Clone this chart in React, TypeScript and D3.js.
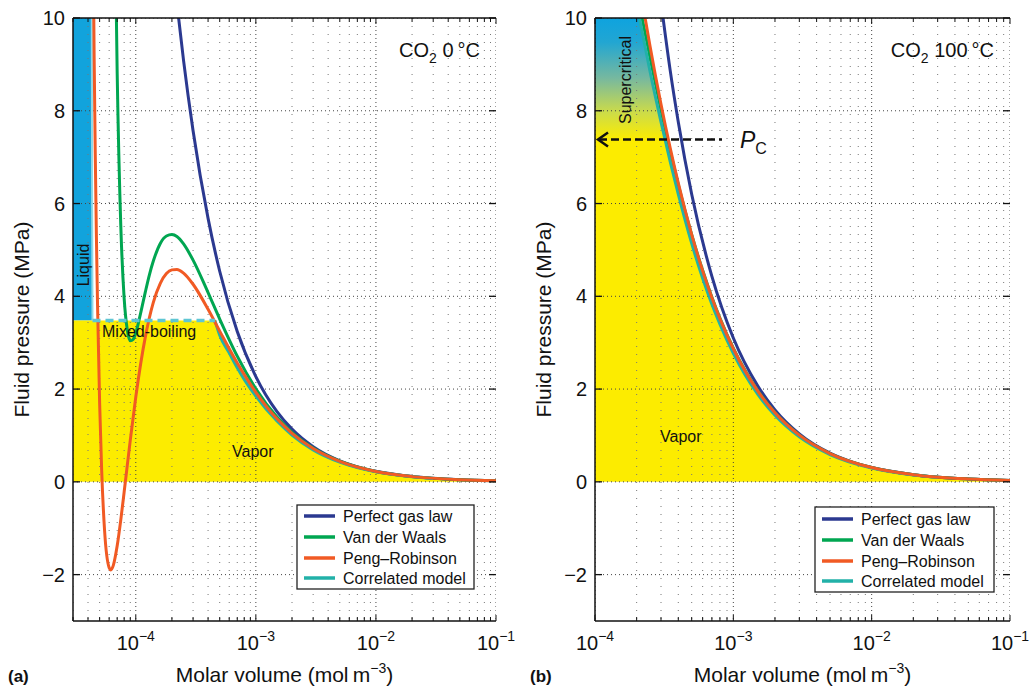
import React from 'react';
import * as d3 from 'd3';

// ---------- DATA ----------
// Panel (a): CO2 at 0 °C   — molar volume V (m^3/mol), pressure P (MPa)
const A_GAS_V = [2.2e-4, 2.5e-4, 3e-4, 4e-4, 5e-4, 7e-4, 1e-3, 1.5e-3, 2e-3, 3e-3, 5e-3, 7e-3, 1e-2, 2e-2, 5e-2, 1e-1];
const A_GAS_P = [10.32, 9.08, 7.57, 5.68, 4.54, 3.24, 2.27, 1.514, 1.136, 0.757, 0.454, 0.324, 0.227, 0.114, 0.045, 0.0227];

const A_VDW_V = [6.5e-5, 6.7e-5, 7e-5, 7.5e-5, 8e-5, 8.5e-5, 9e-5, 9.5e-5, 1e-4, 1.1e-4, 1.2e-4, 1.3e-4, 1.4e-4, 1.6e-4, 1.8e-4, 2e-4, 2.2e-4, 2.5e-4, 3e-4, 4e-4, 5e-4, 7e-4, 1e-3, 1.5e-3, 2e-3, 3e-3, 5e-3, 1e-2, 2e-2, 5e-2, 1e-1];
const A_VDW_P = [15.55, 12.26, 8.81, 5.53, 3.96, 3.27, 3.04, 3.07, 3.21, 3.65, 4.09, 4.47, 4.76, 5.14, 5.30, 5.33, 5.29, 5.13, 4.78, 4.08, 3.51, 2.71, 2.008, 1.397, 1.069, 0.727, 0.444, 0.2244, 0.1127, 0.0453, 0.0227];

const A_PR_V = [4.3e-5, 4.5e-5, 4.6e-5, 4.7e-5, 4.8e-5, 5e-5, 5.2e-5, 5.5e-5, 6e-5, 6.2e-5, 6.5e-5, 7e-5, 7.5e-5, 8e-5, 8.5e-5, 9e-5, 1e-4, 1.2e-4, 1.4e-4, 1.6e-4, 1.8e-4, 2e-4, 2.2e-4, 2.5e-4, 3e-4, 4e-4, 5e-4, 7e-4, 1e-3, 1.5e-3, 2e-3, 3e-3, 5e-3, 1e-2, 2e-2, 5e-2, 1e-1];
const A_PR_P = [14.85, 9.14, 7.02, 5.28, 3.85, 1.69, 0.24, -1.06, -1.85, -1.90, -1.80, -1.38, -0.82, -0.22, 0.36, 0.90, 1.83, 3.12, 3.87, 4.28, 4.49, 4.57, 4.58, 4.50, 4.26, 3.72, 3.25, 2.56, 1.93, 1.358, 1.047, 0.717, 0.440, 0.2235, 0.1126, 0.0453, 0.0227];

const A_CORR_LIQ_V = [4.30e-5, 4.33e-5, 4.36e-5];
const A_CORR_LIQ_P = [10, 6, 3.48];
const A_SAT_P = 3.48;
const A_CORR_VAP_V = [4.56e-4, 5e-4, 6e-4, 7e-4, 8e-4, 1e-3, 1.5e-3, 2e-3, 3e-3, 5e-3, 1e-2, 2e-2, 3e-2];
const A_CORR_VAP_P = [3.48, 3.16, 2.78, 2.46, 2.21, 1.85, 1.31, 1.01, 0.69, 0.425, 0.216, 0.109, 0.073];
const A_TAIL_V = [5e-2, 1e-1];
const A_TAIL_P = [0.0453, 0.0227];

// Panel (b): CO2 at 100 °C
const B_GAS_V = [3e-4, 3.5e-4, 4e-4, 5e-4, 7e-4, 1e-3, 1.5e-3, 2e-3, 3e-3, 5e-3, 7e-3, 1e-2, 2e-2, 5e-2, 1e-1];
const B_GAS_P = [10.34, 8.86, 7.76, 6.20, 4.43, 3.10, 2.07, 1.55, 1.034, 0.620, 0.443, 0.310, 0.155, 0.062, 0.031];

const B_VDW_V = [2.1e-4, 2.2e-4, 2.5e-4, 3e-4, 3.5e-4, 4e-4, 5e-4, 6e-4, 7e-4, 8e-4, 1e-3, 1.5e-3, 2e-3, 3e-3, 5e-3, 1e-2, 2e-2, 5e-2, 1e-1];
const B_VDW_P = [10.29, 9.97, 9.14, 8.01, 7.12, 6.41, 5.33, 4.56, 3.98, 3.53, 2.88, 1.967, 1.494, 1.0086, 0.611, 0.308, 0.1545, 0.0619, 0.0310];

const B_PR_V = [2.2e-4, 2.3e-4, 2.5e-4, 3e-4, 3.5e-4, 4e-4, 5e-4, 6e-4, 7e-4, 8e-4, 1e-3, 1.5e-3, 2e-3, 3e-3, 5e-3, 1e-2, 2e-2, 5e-2, 1e-1];
const B_PR_P = [10.35, 10.01, 9.39, 8.14, 7.19, 6.44, 5.33, 4.55, 3.97, 3.52, 2.87, 1.960, 1.490, 1.0065, 0.610, 0.3077, 0.1545, 0.0619, 0.0310];

const B_CORR_V = [2.0e-4, 2.1e-4, 2.2e-4, 2.5e-4, 3e-4, 3.5e-4, 4e-4, 5e-4, 6e-4, 7e-4, 8e-4, 1e-3, 1.5e-3, 2e-3, 3e-3, 5e-3, 1e-2, 2e-2, 3e-2];
const B_CORR_P = [10.4, 10.0, 9.68, 8.85, 7.76, 6.90, 6.20, 5.14, 4.39, 3.83, 3.40, 2.77, 1.89, 1.435, 0.97, 0.588, 0.297, 0.149, 0.0995];
const B_TAIL_V = [5e-2, 1e-1];
const B_TAIL_P = [0.0619, 0.0310];
const B_PC = 7.38;

const P_TICKS = [-2, 0, 2, 4, 6, 8, 10];
const A_X_EXP = [-4, -3, -2, -1];
const B_X_EXP = [-4, -3, -2, -1];
const LEGEND_LABELS = ['Perfect gas law', 'Van der Waals', 'Peng\u2013Robinson', 'Correlated model'];

// ---------- STYLE ----------
const FONT = "'Liberation Sans', Arial, Helvetica, sans-serif";
const C_GAS = '#2b3990';
const C_VDW = '#00a651';
const C_PR = '#f15a24';
const C_CORR = '#22b1a8';
const C_DASH = '#5ec6d3';
const C_LIQ = '#12a3dc';
const C_YEL = '#fcec00';
const LEG_COLORS = [C_GAS, C_VDW, C_PR, C_CORR];

const Y_TOP = 18, Y_BOT = 621;

type Pt = [number, number];
const zip = (v: number[], p: number[]): Pt[] => v.map((x, i) => [x, p[i]]);

function Panel(props: {
  id: string; x0: number; x1: number; dom: [number, number]; exps: number[];
  gas: Pt[]; vdw: Pt[]; pr: Pt[]; title: string; legend: { x: number; y: number; w: number; h: number; rows: number[] };
  kind: 'a' | 'b';
}) {
  const { id, x0, x1, dom, exps, kind } = props;
  const xs = d3.scaleLog().domain(dom).range([x0, x1]);
  const ys = d3.scaleLinear().domain([-3, 10]).range([Y_BOT, Y_TOP]);
  const line = d3.line<Pt>().x(d => xs(d[0])).y(d => ys(d[1])).curve(d3.curveMonotoneX);

  // grid positions
  const minor: number[] = [];
  const major: number[] = [];
  const lo = Math.floor(Math.log10(dom[0])), hi = Math.ceil(Math.log10(dom[1]));
  for (let e = lo; e <= hi; e++) {
    for (let m = 1; m <= 9; m++) {
      const v = m * Math.pow(10, e);
      if (v < dom[0] * 0.999 || v > dom[1] * 1.001) continue;
      (m === 1 ? major : minor).push(v);
    }
  }

  let fills: React.ReactNode = null;
  let corr: React.ReactNode = null;
  const yZero = ys(0);
  if (kind === 'a') {
    const liq = zip(A_CORR_LIQ_V, A_CORR_LIQ_P);
    const liqPath = `M${x0},${ys(10)}L${xs(liq[0][0])},${ys(10)}` +
      liq.map(d => `L${xs(d[0])},${ys(d[1])}`).join('') + `L${x0},${ys(A_SAT_P)}Z`;
    const vap = zip(A_CORR_VAP_V, A_CORR_VAP_P).concat(zip(A_TAIL_V, A_TAIL_P));
    const vapLine = line(vap) as string;
    const yelPath = `M${x0},${yZero}L${x0},${ys(A_SAT_P)}` + vapLine.replace(/^M/, 'L') + `L${xs(dom[1])},${yZero}Z`;
    fills = (
      <g>
        <path d={liqPath} fill={C_LIQ} />
        <path d={yelPath} fill={C_YEL} />
      </g>
    );
    corr = (
      <g>
        <path d={line(liq) as string} fill="none" stroke="#8fd9e6" strokeWidth={2} />
        <path d={line(zip(A_CORR_VAP_V, A_CORR_VAP_P)) as string} fill="none" stroke={C_CORR} strokeWidth={3} />
      </g>
    );
  } else {
    const c = zip(B_CORR_V, B_CORR_P);
    const full = c.concat(zip(B_TAIL_V, B_TAIL_P));
    const l = line(full) as string;
    const p = `M${x0},${yZero}L${x0},${ys(c[0][1])}` + l.replace(/^M/, 'L') + `L${xs(dom[1])},${yZero}Z`;
    fills = (
      <g>
        <defs>
          <linearGradient id={`grad-${id}`} gradientUnits="userSpaceOnUse" x1={0} x2={0} y1={ys(10)} y2={ys(B_PC)}>
            <stop offset="0" stopColor="#0ea3df" />
            <stop offset="0.2" stopColor="#22a6d2" />
            <stop offset="0.5" stopColor="#78b99e" />
            <stop offset="0.78" stopColor="#cddc48" />
            <stop offset="1" stopColor={C_YEL} />
          </linearGradient>
        </defs>
        <path d={p} fill={`url(#grad-${id})`} />
      </g>
    );
    corr = <path d={line(c) as string} fill="none" stroke={C_CORR} strokeWidth={3} />;
  }

  const clipId = `clip-${id}`;
  return (
    <g>
      <defs>
        <clipPath id={clipId}>
          <rect x={x0} y={Y_TOP} width={x1 - x0} height={Y_BOT - Y_TOP} />
        </clipPath>
      </defs>
      <g clipPath={`url(#${clipId})`}>
        {fills}
        {/* grid */}
        {minor.map((v, i) => (
          <line key={'mi' + i} x1={xs(v)} x2={xs(v)} y1={Y_TOP} y2={Y_BOT} stroke="#777" strokeWidth={1} strokeDasharray="1,7" />
        ))}
        {major.map((v, i) => (
          <line key={'ma' + i} x1={xs(v)} x2={xs(v)} y1={Y_TOP} y2={Y_BOT} stroke="#444" strokeWidth={1} strokeDasharray="1,3" />
        ))}
        {P_TICKS.map((t, i) => (
          <line key={'h' + i} x1={x0} x2={x1} y1={ys(t)} y2={ys(t)} stroke="#444" strokeWidth={1} strokeDasharray="1,3" />
        ))}
        <path d={line(props.gas) as string} fill="none" stroke={C_GAS} strokeWidth={3} />
        <path d={line(props.vdw) as string} fill="none" stroke={C_VDW} strokeWidth={3} />
        {corr}
        <path d={line(props.pr) as string} fill="none" stroke={C_PR} strokeWidth={3} />
        {kind === 'a' && (
          <line x1={xs(A_CORR_LIQ_V[2])} x2={xs(A_CORR_VAP_V[0])} y1={ys(A_SAT_P)} y2={ys(A_SAT_P)}
            stroke={C_DASH} strokeWidth={3.5} strokeDasharray="8,5" />
        )}
      </g>
      {/* axes */}
      <line x1={x0} x2={x0} y1={Y_TOP} y2={Y_BOT} stroke="#111" strokeWidth={1.5} />
      <line x1={x0} x2={x1} y1={Y_BOT} y2={Y_BOT} stroke="#111" strokeWidth={1.5} />
      <line x1={x0} x2={x1} y1={Y_TOP} y2={Y_TOP} stroke="#111" strokeWidth={1.5} />
      {P_TICKS.map((t, i) => (
        <g key={'yt' + i}>
          <line x1={x0} x2={x0 + 7} y1={ys(t)} y2={ys(t)} stroke="#111" strokeWidth={1.3} />
          <line x1={x1 - 7} x2={x1} y1={ys(t)} y2={ys(t)} stroke="#111" strokeWidth={1.3} />
          <text x={x0 - 8} y={ys(t) + 7} textAnchor="end" fontSize={20} fontFamily={FONT} fill="#111">
            {t < 0 ? '\u2212' + Math.abs(t) : String(t)}
          </text>
        </g>
      ))}
      {minor.concat(major).map((v, i) => {
        const len = major.includes(v) ? 6 : 4;
        return (
          <g key={'xt' + i}>
            <line x1={xs(v)} x2={xs(v)} y1={Y_BOT} y2={Y_BOT - len} stroke="#111" strokeWidth={1} />
            <line x1={xs(v)} x2={xs(v)} y1={Y_TOP} y2={Y_TOP + len} stroke="#111" strokeWidth={1} />
          </g>
        );
      })}
      {exps.map((e, i) => (
        <text key={'xl' + i} x={xs(Math.pow(10, e))} y={650} textAnchor="middle" fontSize={20} fontFamily={FONT} fill="#111">
          10<tspan dy={-9} fontSize={14}>{'\u2212' + Math.abs(e)}</tspan>
        </text>
      ))}
      {/* axis titles */}
      <text transform={`translate(${x0 - 44},${(Y_TOP + Y_BOT) / 2}) rotate(-90)`} textAnchor="middle" fontSize={21} fontFamily={FONT} fill="#111">
        Fluid pressure (MPa)
      </text>
      <text x={(x0 + x1) / 2} y={682} textAnchor="middle" fontSize={21} fontFamily={FONT} fill="#111">
        Molar volume (mol{'\u2009'}m<tspan dy={-9} fontSize={14}>{'\u2212'}3</tspan><tspan dy={9}>)</tspan>
      </text>
      {/* title */}
      <text x={x1 - 16} y={57} textAnchor="end" fontSize={20} fontFamily={FONT} fill="#111">
        CO<tspan dy={6} fontSize={14}>2</tspan><tspan dy={-6}>{' ' + props.title}</tspan>
      </text>
      {/* legend */}
      <g>
        <rect x={props.legend.x} y={props.legend.y} width={props.legend.w} height={props.legend.h} fill="#fff" stroke="#222" strokeWidth={1.3} />
        {LEGEND_LABELS.map((lab, i) => (
          <g key={'lg' + i}>
            <line x1={props.legend.x + 7} x2={props.legend.x + 38} y1={props.legend.rows[i]} y2={props.legend.rows[i]} stroke={LEG_COLORS[i]} strokeWidth={3.5} />
            <text x={props.legend.x + 46} y={props.legend.rows[i] + 6} fontSize={16} fontFamily={FONT} fill="#111">{lab}</text>
          </g>
        ))}
      </g>
    </g>
  );
}

export default function App() {
  const bx0 = 595;
  const xsB = d3.scaleLog().domain([1e-4, 1e-1]).range([595, 1010]);
  const ysB = d3.scaleLinear().domain([-3, 10]).range([Y_BOT, Y_TOP]);
  const pcY = ysB(B_PC);
  return (
    <svg width={1031} height={688} viewBox="0 0 1031 688" style={{ display: 'block', position: 'absolute', left: 0, top: 0, background: '#fff' }}>
      <rect x={0} y={0} width={1031} height={688} fill="#fff" />
      <Panel id="a" kind="a" x0={73} x1={496} dom={[3e-5, 1e-1]} exps={A_X_EXP}
        gas={zip(A_GAS_V, A_GAS_P)} vdw={zip(A_VDW_V, A_VDW_P)} pr={zip(A_PR_V, A_PR_P)}
        title={'0\u2009\u00b0C'} legend={{ x: 297, y: 505, w: 177, h: 84, rows: [516, 537, 558, 578] }} />
      <Panel id="b" kind="b" x0={bx0} x1={1010} dom={[1e-4, 1e-1]} exps={B_X_EXP}
        gas={zip(B_GAS_V, B_GAS_P)} vdw={zip(B_VDW_V, B_VDW_P)} pr={zip(B_PR_V, B_PR_P)}
        title={'100\u2009\u00b0C'} legend={{ x: 815, y: 507, w: 179, h: 85, rows: [519, 540, 561, 581] }} />
      {/* panel (a) annotations */}
      <text transform="translate(89,265) rotate(-90)" textAnchor="middle" fontSize={16} fontFamily={FONT} fill="#111">Liquid</text>
      <text x={102} y={337} fontSize={16} fontFamily={FONT} fill="#111">Mixed-boiling</text>
      <text x={232} y={457} fontSize={16} fontFamily={FONT} fill="#111">Vapor</text>
      {/* panel (b) annotations */}
      <text transform="translate(631,80) rotate(-90)" textAnchor="middle" fontSize={16} fontFamily={FONT} fill="#111">Supercritical</text>
      <text x={660} y={442} fontSize={16} fontFamily={FONT} fill="#111">Vapor</text>
      <line x1={xsB(1e-4) + 4} x2={722} y1={pcY} y2={pcY} stroke="#111" strokeWidth={2.5} strokeDasharray="8,4" />
      <path d={`M${bx0 + 13},${pcY - 7}L${bx0 + 3},${pcY}L${bx0 + 13},${pcY + 7}`} fill="none" stroke="#111" strokeWidth={2.5} />
      <text x={740} y={pcY + 8} fontSize={23} fontFamily={FONT} fill="#111">
        <tspan fontStyle="italic">P</tspan><tspan dy={6} fontSize={16}>C</tspan>
      </text>
      {/* panel letters */}
      <text x={8} y={682} fontSize={17} fontWeight="bold" fontFamily={FONT} fill="#111">(a)</text>
      <text x={530} y={682} fontSize={17} fontWeight="bold" fontFamily={FONT} fill="#111">(b)</text>
    </svg>
  );
}
